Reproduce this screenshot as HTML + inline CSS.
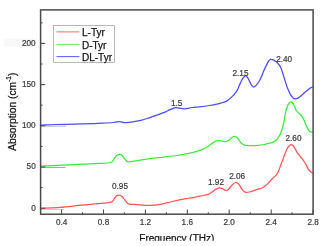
<!DOCTYPE html>
<html><head><meta charset="utf-8"><style>
html,body{margin:0;padding:0;background:#fff;}
body{width:327px;height:246px;overflow:hidden;}
svg{display:block;will-change:transform;filter:blur(0.3px);}
text{font-family:"Liberation Sans",sans-serif;fill:#151515;stroke:#151515;stroke-width:0.25px;}
.tk{font-size:8.2px;fill:#3a3a3a;stroke:#3a3a3a;stroke-width:0.2px;}
.an{font-size:8.2px;fill:#3a3a3a;stroke:#3a3a3a;stroke-width:0.2px;}
.ax{stroke:#4a4a4a;stroke-width:1.05;}
.cv{fill:none;stroke-width:1.25;stroke-linejoin:round;stroke-linecap:round;}
</style></head><body>
<svg width="327" height="246" viewBox="0 0 327 246">
<rect x="0" y="0" width="327" height="246" fill="#fff"/>
<rect x="3.7" y="38.6" width="33" height="8" fill="#f8f8f8"/>
<line x1="40.5" y1="126.2" x2="66" y2="126.2" stroke="#aaa" stroke-width="0.8"/>
<line x1="40.5" y1="167.4" x2="65.5" y2="167.4" stroke="#888" stroke-width="0.8"/>
<line x1="40.5" y1="209.4" x2="64" y2="209.4" stroke="#bbb" stroke-width="0.8"/>
<path class="cv" stroke="#4a4aff" d="M40.8 125.2 C43.4 125.1 50.6 124.7 56.3 124.5 C61.9 124.3 67.8 124.3 74.7 124.1 C81.7 123.9 91.6 123.6 98.0 123.3 C104.4 123.0 109.7 122.8 113.3 122.5 C116.9 122.2 117.6 121.6 119.8 121.6 C122.0 121.6 122.7 122.8 126.2 122.6 C129.7 122.4 137.1 121.2 140.9 120.4 C144.7 119.6 146.3 118.8 149.2 117.8 C152.1 116.8 155.7 115.5 158.3 114.6 C160.9 113.6 163.1 112.9 165.0 112.1 C166.9 111.3 168.3 110.3 169.9 109.6 C171.5 108.9 173.6 108.1 174.8 107.8 C176.0 107.5 175.6 107.6 177.2 107.8 C178.8 108.0 182.1 108.8 184.6 108.8 C187.1 108.8 189.4 107.8 191.9 107.5 C194.4 107.2 196.4 107.1 199.3 106.8 C202.2 106.5 206.4 106.0 209.5 105.5 C212.6 105.0 215.8 104.3 218.0 103.8 C220.2 103.3 221.4 103.0 222.9 102.5 C224.4 102.0 225.4 101.9 227.0 100.9 C228.6 99.9 230.7 97.9 232.3 96.4 C233.9 94.9 235.4 93.1 236.4 91.7 C237.4 90.3 237.7 89.3 238.4 87.8 C239.1 86.2 239.9 84.0 240.6 82.4 C241.3 80.8 242.0 79.5 242.8 78.4 C243.6 77.3 244.6 75.9 245.3 75.7 C246.1 75.5 246.7 76.5 247.3 77.2 C247.9 78.0 248.3 78.9 249.0 80.2 C249.7 81.5 250.7 83.9 251.5 85.0 C252.3 86.1 253.0 87.1 253.9 87.0 C254.8 86.9 255.9 85.6 256.8 84.6 C257.7 83.6 258.5 82.3 259.3 81.0 C260.1 79.7 260.8 78.1 261.5 76.5 C262.2 74.9 262.6 73.7 263.5 71.5 C264.4 69.3 266.3 65.4 267.2 63.6 C268.1 61.8 268.4 61.2 269.0 60.5 C269.6 59.8 269.9 59.4 270.6 59.3 C271.3 59.2 272.5 59.6 273.3 59.9 C274.1 60.2 274.8 60.7 275.5 61.2 C276.2 61.7 276.8 62.0 277.6 63.0 C278.5 64.0 279.7 65.4 280.6 67.2 C281.5 69.0 282.2 71.6 283.0 74.0 C283.8 76.4 284.5 79.0 285.3 81.5 C286.1 84.0 287.0 86.9 287.9 89.1 C288.8 91.3 289.6 93.1 290.5 94.6 C291.4 96.1 292.6 97.5 293.5 98.2 C294.4 98.9 294.9 98.8 295.6 98.8 C296.3 98.8 297.1 98.5 297.9 98.1 C298.7 97.7 299.3 97.2 300.5 96.2 C301.7 95.2 303.7 93.4 305.3 92.1 C306.9 90.8 309.1 89.0 310.3 88.1 C311.6 87.2 312.4 87.0 312.8 86.8"/>
<path class="cv" stroke="#38ec38" d="M40.8 166.2 C44.2 166.0 54.4 165.4 61.4 165.1 C68.4 164.8 76.4 164.5 82.8 164.2 C89.2 163.9 95.4 163.7 100.0 163.4 C104.6 163.1 108.2 162.9 110.3 162.5 C112.4 162.1 111.7 162.0 112.5 161.2 C113.3 160.4 114.2 158.6 114.9 157.6 C115.7 156.6 116.2 155.8 117.0 155.2 C117.8 154.6 119.0 154.2 119.9 154.3 C120.8 154.4 121.7 155.0 122.5 155.8 C123.3 156.6 123.9 158.0 124.8 159.0 C125.7 160.0 126.4 161.6 127.9 161.9 C129.4 162.2 131.2 161.5 134.0 161.1 C136.8 160.7 140.9 160.0 145.0 159.4 C149.1 158.8 153.0 158.3 158.3 157.7 C163.6 157.0 171.5 156.2 176.7 155.5 C181.9 154.8 185.6 154.0 189.5 153.2 C193.4 152.3 196.9 151.5 200.0 150.4 C203.1 149.3 205.8 147.7 208.0 146.4 C210.2 145.1 211.3 143.8 212.9 142.8 C214.5 141.8 216.4 140.7 217.8 140.4 C219.2 140.1 220.2 140.8 221.5 141.0 C222.8 141.2 224.4 141.9 225.7 141.7 C227.0 141.5 228.3 140.5 229.4 139.8 C230.5 139.1 231.2 138.1 232.0 137.5 C232.8 136.9 233.6 136.5 234.3 136.4 C235.0 136.3 235.7 136.6 236.3 137.0 C236.9 137.4 237.2 137.6 238.0 138.6 C238.8 139.6 239.9 141.7 241.0 142.8 C242.1 143.9 243.2 144.7 244.7 145.2 C246.2 145.7 247.8 145.6 250.0 145.6 C252.2 145.6 255.7 145.5 258.0 145.3 C260.3 145.1 262.3 144.8 264.0 144.5 C265.7 144.2 266.7 143.6 268.0 143.3 C269.3 143.0 270.6 143.1 272.0 142.6 C273.4 142.1 275.1 141.1 276.2 140.2 C277.3 139.3 277.8 138.5 278.5 137.3 C279.2 136.2 279.9 135.4 280.7 133.3 C281.5 131.2 282.6 128.0 283.3 125.0 C284.0 122.0 284.5 118.2 285.0 115.5 C285.5 112.8 286.0 110.5 286.5 108.8 C287.0 107.0 287.5 106.1 288.0 105.0 C288.5 103.9 289.1 102.9 289.6 102.4 C290.1 101.9 290.5 101.8 291.0 101.9 C291.5 102.0 291.9 102.3 292.4 102.8 C292.9 103.3 293.2 103.5 293.8 104.7 C294.4 106.0 295.3 108.8 296.2 110.3 C297.1 111.8 298.5 112.8 299.4 113.7 C300.3 114.7 301.0 115.2 301.7 116.0 C302.4 116.8 302.8 117.7 303.4 118.8 C304.0 119.9 304.5 121.5 305.1 122.8 C305.7 124.1 306.1 125.5 306.8 126.8 C307.5 128.1 308.4 129.9 309.1 130.8 C309.8 131.7 310.4 131.8 311.0 132.0 C311.6 132.2 312.5 132.2 312.8 132.3"/>
<path class="cv" stroke="#ff5454" d="M40.8 208.4 C44.0 208.2 53.2 207.9 60.0 207.4 C66.8 206.9 74.3 205.9 81.4 205.2 C88.5 204.5 97.7 203.8 102.8 203.2 C107.9 202.6 109.8 202.8 111.8 201.9 C113.8 201.0 114.0 198.7 114.9 197.6 C115.8 196.5 116.2 196.0 117.0 195.6 C117.8 195.2 118.6 195.0 119.4 195.1 C120.2 195.2 121.0 195.6 121.8 196.2 C122.5 196.8 123.0 197.5 123.9 198.7 C124.9 199.9 126.5 202.3 127.5 203.2 C128.6 204.1 129.1 204.1 130.2 204.3 C131.3 204.5 131.3 204.2 134.0 204.4 C136.7 204.6 142.6 205.2 146.4 205.3 C150.2 205.4 153.5 205.4 157.1 204.9 C160.7 204.4 163.9 203.5 167.8 202.6 C171.7 201.7 177.0 200.4 180.7 199.6 C184.4 198.8 186.8 198.6 190.0 198.0 C193.2 197.4 196.8 196.8 199.8 196.2 C202.9 195.6 206.3 195.1 208.3 194.4 C210.3 193.7 210.8 192.9 212.0 192.1 C213.2 191.3 214.5 190.1 215.7 189.4 C216.9 188.7 218.3 187.9 219.4 187.8 C220.5 187.7 221.4 188.2 222.4 188.7 C223.4 189.1 224.6 190.3 225.5 190.5 C226.4 190.7 227.2 190.2 227.9 189.7 C228.7 189.2 229.4 188.2 230.0 187.5 C230.6 186.8 230.7 186.3 231.6 185.5 C232.5 184.7 234.2 182.6 235.5 182.5 C236.8 182.4 238.0 183.5 239.1 184.7 C240.2 185.9 241.1 188.3 242.1 189.6 C243.1 190.8 244.0 191.8 245.2 192.2 C246.4 192.6 247.6 192.4 249.5 192.0 C251.4 191.6 254.7 190.3 256.8 189.6 C258.9 188.9 260.5 188.7 262.0 188.0 C263.5 187.3 264.8 186.2 266.0 185.2 C267.2 184.2 268.2 183.1 269.3 182.0 C270.4 180.9 271.3 179.7 272.5 178.5 C273.7 177.3 275.5 176.0 276.6 174.6 C277.7 173.2 278.3 171.6 279.0 170.0 C279.7 168.4 280.2 166.5 280.8 164.8 C281.4 163.1 282.2 161.6 282.8 160.0 C283.4 158.4 283.8 156.9 284.4 155.3 C285.0 153.8 285.6 152.0 286.2 150.7 C286.8 149.4 287.3 148.2 287.9 147.3 C288.5 146.4 289.1 145.9 289.7 145.4 C290.2 144.9 290.7 144.6 291.2 144.6 C291.7 144.6 292.2 144.6 292.8 145.2 C293.4 145.8 294.0 146.9 294.8 148.2 C295.6 149.5 296.6 151.7 297.5 153.1 C298.4 154.5 299.4 155.3 300.3 156.5 C301.2 157.7 302.2 158.7 303.1 160.0 C304.0 161.3 304.9 162.5 305.8 164.1 C306.7 165.7 307.7 168.3 308.6 169.7 C309.5 171.1 310.7 171.8 311.4 172.4 C312.1 173.0 312.6 173.0 312.8 173.1"/>
<rect x="40.6" y="9.9" width="272.5" height="204.3" fill="none" stroke="#4a4a4a" stroke-width="1.5"/>
<line x1="40.6" y1="208.2" x2="45.2" y2="208.2" class="ax"/>
<line x1="40.6" y1="167.0" x2="45.2" y2="167.0" class="ax"/>
<line x1="40.6" y1="125.8" x2="45.2" y2="125.8" class="ax"/>
<line x1="40.6" y1="84.6" x2="45.2" y2="84.6" class="ax"/>
<line x1="40.6" y1="43.4" x2="45.2" y2="43.4" class="ax"/>
<line x1="40.6" y1="187.6" x2="42.6" y2="187.6" class="ax"/>
<line x1="40.6" y1="146.4" x2="42.6" y2="146.4" class="ax"/>
<line x1="40.6" y1="105.2" x2="42.6" y2="105.2" class="ax"/>
<line x1="40.6" y1="64.0" x2="42.6" y2="64.0" class="ax"/>
<line x1="40.6" y1="22.8" x2="42.6" y2="22.8" class="ax"/>
<line x1="61.6" y1="214.2" x2="61.6" y2="209.4" class="ax"/>
<line x1="103.5" y1="214.2" x2="103.5" y2="209.4" class="ax"/>
<line x1="145.4" y1="214.2" x2="145.4" y2="209.4" class="ax"/>
<line x1="187.3" y1="214.2" x2="187.3" y2="209.4" class="ax"/>
<line x1="229.2" y1="214.2" x2="229.2" y2="209.4" class="ax"/>
<line x1="271.2" y1="214.2" x2="271.2" y2="209.4" class="ax"/>
<line x1="313.1" y1="214.2" x2="313.1" y2="209.4" class="ax"/>
<line x1="82.5" y1="214.2" x2="82.5" y2="212.2" class="ax"/>
<line x1="124.4" y1="214.2" x2="124.4" y2="212.2" class="ax"/>
<line x1="166.4" y1="214.2" x2="166.4" y2="212.2" class="ax"/>
<line x1="208.3" y1="214.2" x2="208.3" y2="212.2" class="ax"/>
<line x1="250.2" y1="214.2" x2="250.2" y2="212.2" class="ax"/>
<line x1="292.1" y1="214.2" x2="292.1" y2="212.2" class="ax"/>
<text x="35.7" y="210.6" text-anchor="end" class="tk">0</text>
<text x="35.7" y="169.4" text-anchor="end" class="tk">50</text>
<text x="35.7" y="128.2" text-anchor="end" class="tk">100</text>
<text x="35.7" y="87.0" text-anchor="end" class="tk">150</text>
<text x="35.7" y="45.8" text-anchor="end" class="tk">200</text>
<text x="61.6" y="225.2" text-anchor="middle" class="tk">0.4</text>
<text x="103.5" y="225.2" text-anchor="middle" class="tk">0.8</text>
<text x="145.4" y="225.2" text-anchor="middle" class="tk">1.2</text>
<text x="187.3" y="225.2" text-anchor="middle" class="tk">1.6</text>
<text x="229.2" y="225.2" text-anchor="middle" class="tk">2.0</text>
<text x="271.2" y="225.2" text-anchor="middle" class="tk">2.4</text>
<text x="313.1" y="225.2" text-anchor="middle" class="tk">2.8</text>
<text x="120.0" y="188.8" text-anchor="middle" class="an">0.95</text>
<text x="216.0" y="185.1" text-anchor="middle" class="an">1.92</text>
<text x="237.2" y="179.1" text-anchor="middle" class="an">2.06</text>
<text x="293.5" y="141.4" text-anchor="middle" class="an">2.60</text>
<text x="176.7" y="105.6" text-anchor="middle" class="an">1.5</text>
<text x="240.5" y="75.8" text-anchor="middle" class="an">2.15</text>
<text x="284.1" y="61.8" text-anchor="middle" class="an">2.40</text>
<rect x="53.5" y="25.4" width="61" height="37" fill="#fff" stroke="#999" stroke-width="0.7"/>
<line x1="56.5" y1="31.9" x2="79.4" y2="31.9" stroke="#ff5555" stroke-width="0.9"/>
<line x1="56.5" y1="44.3" x2="79.4" y2="44.3" stroke="#44ee44" stroke-width="0.9"/>
<line x1="56.5" y1="56.6" x2="79.4" y2="56.6" stroke="#4444ff" stroke-width="0.9"/>
<text x="82" y="36.3" font-size="10">L-Tyr</text>
<text x="82" y="48.8" font-size="10">D-Tyr</text>
<text x="82" y="61.1" font-size="10">DL-Tyr</text>
<text x="139.3" y="241.7" font-size="10">Frequency (THz)</text>
<text transform="translate(15.5,150.8) rotate(-90)" font-size="10.25">Absorption (cm<tspan font-size="6.5" dy="-4.3">-1</tspan><tspan dy="4.3">)</tspan></text>
<rect x="0" y="240.8" width="327" height="6" fill="#fff"/>
</svg>
</body></html>
